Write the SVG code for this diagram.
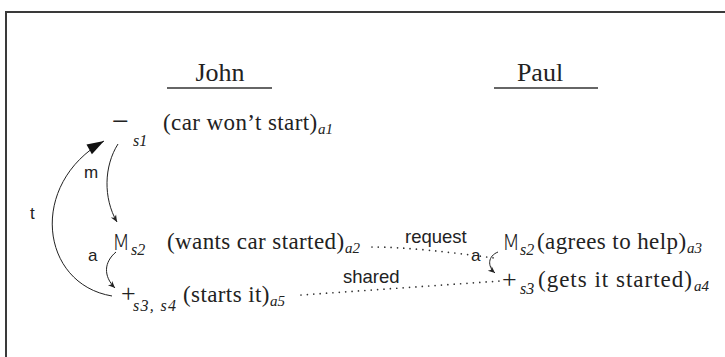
<svg xmlns="http://www.w3.org/2000/svg" width="725" height="357" viewBox="0 0 725 357">
  <style>
    text { fill: #222; }
    .main { font-size: 23px; letter-spacing: 0.4px; }
    .sub { font-size: 15px; font-style: italic; }
    .sym-sub { font-size: 16px; font-style: italic; }
    .title { font-size: 26px; }
    .msym { font-weight: 200; font-size: 21px; }
    .lbl { font-size: 17px; }
    .edge { font-size: 18.5px; }
    .arc { fill: none; stroke: #222; stroke-width: 1; }
    .dots { fill: none; stroke: #333; stroke-width: 1.7; stroke-linecap: round; stroke-dasharray: 0 6.4; }
    .rule { stroke: #333; stroke-width: 1.3; }
  </style>
  <defs>
    <marker id="tip" markerUnits="userSpaceOnUse" markerWidth="10" markerHeight="10" viewBox="-9 -5 10 10" refX="0" refY="0" orient="auto">
      <path d="M0,0 L-7,-3 L-5,0 L-7,3 Z" fill="#222"/>
    </marker>
    <marker id="bigtip" markerUnits="userSpaceOnUse" markerWidth="20" markerHeight="14" viewBox="-18 -7 20 14" refX="0" refY="0" orient="auto">
      <path d="M0,0 L-17,-5.5 L-17,5.5 Z" fill="#111"/>
    </marker>
  </defs>

  <!-- frame -->
  <path d="M6,357 V12 H725" fill="none" stroke="#3a3a3a" stroke-width="2"/>

  <g font-family="Liberation Serif, DejaVu Serif, serif">
    <!-- column headings -->
    <g id="john-heading">
      <text class="title" x="220" y="81" text-anchor="middle">John</text>
      <line class="rule" x1="167" y1="88" x2="272" y2="88"/>
    </g>
    <g id="paul-heading">
      <text class="title" x="540" y="81" text-anchor="middle">Paul</text>
      <line class="rule" x1="494" y1="88" x2="598" y2="88"/>
    </g>

    <!-- John: car won't start -->
    <g id="a1">
      <text x="112" y="131" font-size="30">−</text>
      <text class="sym-sub" x="133" y="146">s1</text>
      <text class="main" x="163" y="130">(car won’t start)</text>
      <text class="sub" x="318" y="134">a1</text>
    </g>

    <!-- John: wants car started -->
    <g id="a2">
      <text class="msym" x="112" y="250" font-family="DejaVu Sans, sans-serif">M</text>
      <text class="sym-sub" x="131" y="255">s2</text>
      <text class="main" x="167" y="249">(wants car started)</text>
      <text class="sub" x="345" y="253">a2</text>
    </g>

    <!-- John: starts it -->
    <g id="a5">
      <text x="121" y="302" font-size="26">+</text>
      <text class="sym-sub" x="133" y="311" style="letter-spacing:1.3px">s3, s4</text>
      <text class="main" x="183" y="302">(starts it)</text>
      <text class="sub" x="270" y="306">a5</text>
    </g>

    <!-- Paul: agrees to help -->
    <g id="a3">
      <text class="msym" x="502" y="250" font-family="DejaVu Sans, sans-serif">M</text>
      <text class="sym-sub" x="520" y="255">s2</text>
      <text class="main" x="537" y="249">(agrees to help)</text>
      <text class="sub" x="687" y="253">a3</text>
    </g>

    <!-- Paul: gets it started -->
    <g id="a4">
      <text x="502" y="288" font-size="26">+</text>
      <text class="sym-sub" x="520" y="294">s3</text>
      <text class="main" x="538" y="287" style="letter-spacing:1px">(gets it started)</text>
      <text class="sub" x="694" y="291">a4</text>
    </g>
  </g>

  <!-- connectors -->
  <g id="connectors" font-family="Liberation Sans, Arial, sans-serif">
    <path class="arc" d="M118,144 C104,166 103,198 117,222" marker-end="url(#tip)"/>
    <text class="lbl" x="84" y="178">m</text>

    <path class="arc" d="M116,252 C104,262 103,276 115,288" marker-end="url(#tip)"/>
    <text class="lbl" x="88" y="261">a</text>

    <path class="arc" d="M112,296 C40,284 28,184 104,141" marker-end="url(#bigtip)"/>
    <text class="lbl" x="30" y="219">t</text>

    <path class="arc" d="M498,252 C488,256 487,266 495,273" marker-end="url(#tip)"/>
    <text class="lbl" x="471" y="261">a</text>

    <path class="dots" d="M372,247 C405,247 450,252 494,258"/>
    <text class="edge" x="405" y="243">request</text>

    <path class="dots" d="M301,295 L500,281"/>
    <text class="edge" x="343" y="283">shared</text>
  </g>
</svg>
